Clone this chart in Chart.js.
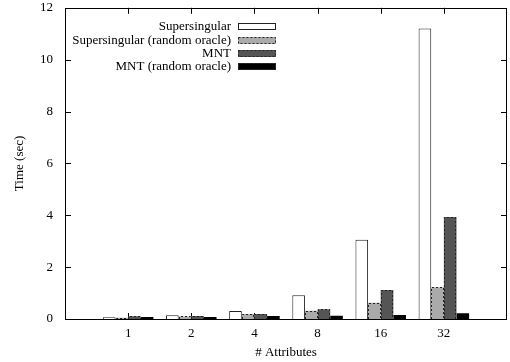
<!DOCTYPE html>
<html><head><meta charset="utf-8">
<script src="https://cdn.jsdelivr.net/npm/chart.js@4/dist/chart.umd.min.js"></script>
<style>html,body{margin:0;padding:0;background:#fff}#wrap{width:510px;height:362px}</style>
</head><body><div id="wrap"><canvas id="c" width="510" height="362"></canvas></div>
<script>
const categories = ['1','2','4','8','16','32'];
const seriesNames = ['Supersingular','Supersingular (random oracle)','MNT','MNT (random oracle)'];
const supersingular   = [0.07, 0.14, 0.31, 0.92, 3.06, 11.2];
const supersingularRO = [0.05, 0.10, 0.19, 0.32, 0.63, 1.22];
const mnt             = [0.11, 0.12, 0.19, 0.38, 1.12, 3.93];
const mntRO           = [0.08, 0.08, 0.12, 0.13, 0.15, 0.22];
const yTicks = [0, 2, 4, 6, 8, 10, 12];

const FONT = '"Liberation Serif", "Times New Roman", serif';
const EDGE = '#222';
const toPts = arr => arr.map((v, i) => ({x: i, y: v}));

const styles = [
  {bg: '#ffffff', dash: null},
  {bg: '#aaaaaa', dash: [2, 2]},
  {bg: '#555555', dash: [2, 2]},
  {bg: '#000000', dash: null}
];
const series = [supersingular, supersingularRO, mnt, mntRO];

const datasets = series.map((s, i) => ({
  label: seriesNames[i],
  data: toPts(s),
  backgroundColor: styles[i].bg,
  borderColor: EDGE,
  borderWidth: i === 0 ? 1 : 0,
  dashBorder: styles[i].dash,
  categoryPercentage: 0.8,
  barPercentage: 1.0
}));

const framePlugin = {
  id: 'frame',
  beforeDatasetsDraw(chart) {
    const {ctx, chartArea: a, scales: {x, y}} = chart;
    ctx.save();
    ctx.strokeStyle = '#000';
    ctx.lineWidth = 1;
    ctx.beginPath();
    const L = 6;
    yTicks.forEach(v => {
      const py = Math.round(y.getPixelForValue(v)) + 0.5;
      ctx.moveTo(a.left, py); ctx.lineTo(a.left + L, py);
      ctx.moveTo(a.right, py); ctx.lineTo(a.right - L, py);
    });
    categories.forEach((c, i) => {
      const px = Math.round(x.getPixelForValue(i)) + 0.5;
      ctx.moveTo(px, a.bottom); ctx.lineTo(px, a.bottom - L);
      ctx.moveTo(px, a.top); ctx.lineTo(px, a.top + L);
    });
    ctx.stroke();
    ctx.restore();
  },
  afterDatasetsDraw(chart) {
    const {ctx, chartArea: a} = chart;
    ctx.save();
    chart.data.datasets.forEach((ds, di) => {
      if (!ds.dashBorder) return;
      const meta = chart.getDatasetMeta(di);
      ctx.strokeStyle = EDGE;
      ctx.lineWidth = 1;
      ctx.setLineDash(ds.dashBorder);
      meta.data.forEach(el => {
        const p = el.getProps(['x', 'y', 'base', 'width'], true);
        const l = Math.round(p.x - p.width / 2) + 0.5;
        const r = Math.round(p.x + p.width / 2) - 0.5;
        const t = Math.round(p.y) + 0.5;
        const b = Math.round(p.base);
        ctx.beginPath();
        ctx.moveTo(l, b); ctx.lineTo(l, t); ctx.lineTo(r, t); ctx.lineTo(r, b);
        ctx.stroke();
      });
    });
    ctx.setLineDash([]);
    ctx.strokeStyle = '#000';
    ctx.lineWidth = 1;
    ctx.strokeRect(Math.round(a.left) + 0.5, Math.round(a.top) + 0.5,
                   Math.round(a.right - a.left) - 1, Math.round(a.bottom - a.top));
    ctx.font = '13px ' + FONT;
    ctx.textAlign = 'right';
    ctx.textBaseline = 'middle';
    const tx = a.left + 166, sx = a.left + 173, sw = 38, sh = 7;
    chart.data.datasets.forEach((ds, i) => {
      const cy = a.top + 19 + i * 13.3;
      ctx.fillStyle = '#000';
      ctx.fillText(ds.label, tx, cy);
      const top = Math.round(cy - sh / 2) + 0.5;
      ctx.fillStyle = ds.backgroundColor;
      ctx.fillRect(sx, top - 0.5, sw, sh);
      ctx.strokeStyle = EDGE;
      ctx.setLineDash(ds.dashBorder || []);
      ctx.strokeRect(sx + 0.5, top, sw - 1, sh - 1);
    });
    ctx.restore();
  }
};

new Chart(document.getElementById('c'), {
  type: 'bar',
  data: {datasets},
  options: {
    responsive: false,
    animation: false,
    devicePixelRatio: 1,
    layout: {padding: {top: 0, right: 3, left: 0, bottom: 0}},
    plugins: {legend: {display: false}, tooltip: {enabled: false}},
    scales: {
      x: {
        type: 'linear', min: -1, max: 6, offset: false,
        grid: {display: false, drawTicks: true, tickLength: 7, offset: false},
        border: {display: false},
        afterBuildTicks: s => { s.ticks = categories.map((c, i) => ({value: i})); },
        afterFit: s => { s.height = 43; },
        ticks: {
          autoSkip: false, maxRotation: 0, padding: 0, color: '#000',
          font: {family: FONT, size: 13},
          callback: v => categories[v] ?? ''
        },
        title: {display: true, text: '# Attributes', color: '#000',
                font: {family: FONT, size: 13}, padding: {top: 0, bottom: 2}}
      },
      y: {
        type: 'linear', min: 0, max: 12,
        grid: {display: false, drawTicks: true, tickLength: 12},
        border: {display: false},
        afterBuildTicks: s => { s.ticks = yTicks.map(v => ({value: v})); },
        afterFit: s => { s.width = 65; },
        ticks: {padding: 0, color: '#000', font: {family: FONT, size: 13}},
        title: {display: true, text: 'Time (sec)', color: '#000',
                font: {family: FONT, size: 13}, padding: {top: 12, bottom: 0}}
      }
    }
  },
  plugins: [framePlugin]
});
</script></body></html>
